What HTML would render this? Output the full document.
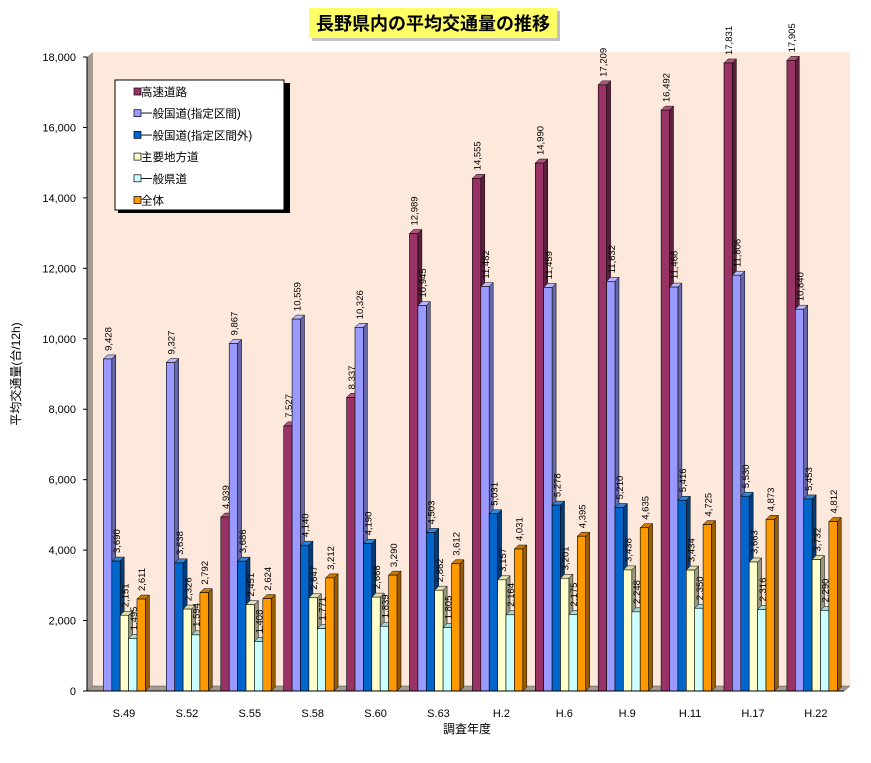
<!DOCTYPE html>
<html><head><meta charset="utf-8"><style>
body{margin:0;background:#fff;}
svg{display:block;font-family:"Liberation Sans","Noto Sans CJK JP",sans-serif;}
</style></head><body>
<svg id="c" width="871" height="763" viewBox="0 0 871 763">
<rect x="312" y="11" width="248" height="30" fill="#999" opacity="0.6"/>
<rect x="309" y="8" width="248" height="30" fill="#ffff66"/>
<text x="433" y="30" text-anchor="middle" font-size="18" font-weight="bold" fill="#000" font-family="'Liberation Sans','Noto Sans CJK JP',sans-serif">長野県内の平均交通量の推移</text>
<polygon points="87,57 93,52 850,52 850,686 93,686 87,691" fill="#fde9dc"/>
<polygon points="87,57 93,52 93,686 87,691" fill="#a39a91"/>
<polygon points="87,691 93,686 850,686 844,691" fill="#a39a91" stroke="#555" stroke-width="0.5"/>
<g id="bars"></g>
<line x1="87" y1="57" x2="87" y2="691" stroke="#000"/>
<line x1="87" y1="691" x2="844" y2="691" stroke="#000"/>
<g id="ticks"></g>
<text transform="translate(20,374) rotate(-90)" text-anchor="middle" font-size="12">平均交通量(台/12h)</text>
<text x="467" y="733" text-anchor="middle" font-size="12">調査年度</text>
<g>
<rect x="118" y="83" width="172" height="130" fill="#000"/>
<rect x="115" y="80" width="169" height="130" fill="#fff" stroke="#000"/>
<g id="legend"></g>
</g>
</svg>
<script>
const categories=["S.49","S.52","S.55","S.58","S.60","S.63","H.2","H.6","H.9","H.11","H.17","H.22"];
const seriesNames=["高速道路","一般国道(指定区間)","一般国道(指定区間外)","主要地方道","一般県道","全体"];
const highway=[0,0,4939,7527,8337,12989,14555,14990,17209,16492,17831,17905];
const nationalDesignated=[9428,9327,9867,10559,10326,10945,11482,11459,11632,11468,11806,10840];
const nationalOther=[3690,3638,3686,4140,4190,4503,5031,5278,5210,5416,5530,5453];
const majorLocal=[2151,2326,2451,2647,2666,2862,3157,3201,3438,3434,3663,3732];
const prefectural=[1495,1594,1408,1771,1839,1805,2164,2175,2248,2350,2316,2290];
const total=[2611,2792,2624,3212,3290,3612,4031,4395,4635,4725,4873,4812];
const yTicks=[0,2000,4000,6000,8000,10000,12000,14000,16000,18000];
const series=[highway,nationalDesignated,nationalOther,majorLocal,prefectural,total];
const colors=["#993366","#9999ff","#0066cc","#ffffcc","#ccffff","#ff9900"];
const tops=["#b3557f","#b8b8ff","#3385d6","#e0e0b0","#a8d8d8","#cc7a00"];
const sides=["#5c1f3d","#6666aa","#003d7a","#999980","#7aa0a0","#995c00"];
const NS="http://www.w3.org/2000/svg";
const y0=691,yMax=57,x0=87,step=62.9,bw=8.4,dx=4,dy=4;
function yS(v){return y0-(v/18000)*(y0-yMax);}
function xS(i,s){return x0+i*step+8+s*bw;}
function mk(t,a,p){const e=document.createElementNS(NS,t);for(const k in a)e.setAttribute(k,a[k]);p.appendChild(e);return e;}
const fmt=v=>v.toLocaleString("en-US");
const tg=document.getElementById("ticks");
yTicks.forEach(v=>{
 const l=mk("line",{x1:83,x2:87,y1:yS(v),y2:yS(v),stroke:"#000"},tg);
 
 
 const t=mk("text",{x:76,y:yS(v)+4,"text-anchor":"end","font-size":11},tg);
 t.textContent=fmt(v);
 
 
});
const bg=document.getElementById("bars");
categories.forEach((c,i)=>{
 const t=mk("text",{x:xS(i,0)+29,y:717,"text-anchor":"middle","font-size":11},tg);
 t.textContent=c;
 
 
 series.forEach((arr,s)=>{
  const v=arr[i]; if(!v) return;
  const x=xS(i,s),y=yS(v),g=mk("g",{},bg);
  
  
  mk("polygon",{points:`${x+bw},${y} ${x+bw+dx},${y-dy} ${x+bw+dx},${y0-dy} ${x+bw},${y0}`,fill:sides[s],stroke:"#000","stroke-width":0.5},g);
  mk("polygon",{points:`${x},${y} ${x+dx},${y-dy} ${x+bw+dx},${y-dy} ${x+bw},${y}`,fill:tops[s],stroke:"#000","stroke-width":0.5},g);
  mk("rect",{x:x,y:y,width:bw,height:y0-y,fill:colors[s],stroke:"#000","stroke-width":0.6},g);
  const lx=x+bw/2+4,ly=y-8;
  const t=mk("text",{transform:`translate(${lx},${ly}) rotate(-90)`,"font-size":9.5},g);
  t.textContent=fmt(v);
  
  
 });
});
const lg=document.getElementById("legend");
seriesNames.forEach((n,s)=>{
 const yy=96+s*21.7;
 const r=mk("rect",{x:134,y:yy-8,width:7,height:7,fill:colors[s],stroke:"#000","stroke-width":0.7},lg);
 
 
 const t=mk("text",{x:141,y:yy,"font-size":11.5},lg);
 t.textContent=n;
 
 
});
</script>
</body></html>
